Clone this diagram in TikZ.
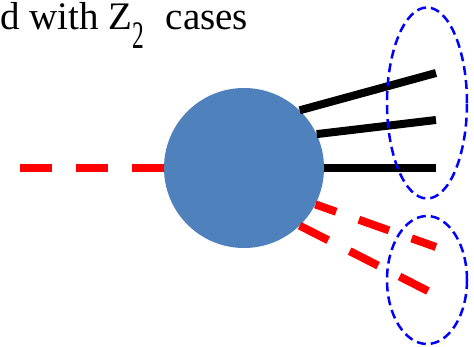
\documentclass[tikz,border=0pt]{standalone}
\usepackage{fontspec}
\setmainfont{Liberation Serif}
\usetikzlibrary{shapes.geometric}
\definecolor{blobblue}{RGB}{79,129,189}

\begin{document}
\begin{tikzpicture}[x=1pt,y=-1pt,
    leg/.style={line width=8pt},
    zleg/.style={draw=red,line width=8pt,dash pattern=on 32pt off 24pt},
    group/.style={draw=blue,ellipse,line width=2.5pt,dash pattern=on 9pt off 5pt,
      minimum width=80pt,inner sep=0pt}]
  \useasboundingbox (0,0) rectangle (474,347);
  \node[anchor=base west,inner sep=0pt,font=\rmfamily\fontsize{39}{43}\selectfont]
    (title) at (0,30) {d with Z\raisebox{-19pt}{\scalebox{0.6}[1]{2}}\hspace{12pt} cases};
  \node[circle,fill=blobblue,minimum size=160pt,inner sep=0pt] (blob) at (244,168) {};
  % incoming line
  \coordinate (in) at (20,168);
  \draw[zleg] (in) -- (blob.west);
  % outgoing lines
  \foreach \a/\x/\y [count=\i] in {46/436/73,25/436/120,0/436/168}{
    \coordinate (out\i) at (\x,\y);
    \draw[leg] (blob.\a) -- (out\i);
  }
  \foreach \a/\x/\y/\p [count=\i] in {-27/436/247/10,-46/428/291/0}{
    \coordinate (z\i) at (\x,\y);
    \draw[zleg,dash phase=\p pt] (blob.\a) -- (z\i);
  }
  % groupings
  \node[group,minimum height=191pt] (g1) at (427,103) {};
  \node[group,minimum height=128pt] (g2) at (427,280) {};
\end{tikzpicture}
\end{document}
